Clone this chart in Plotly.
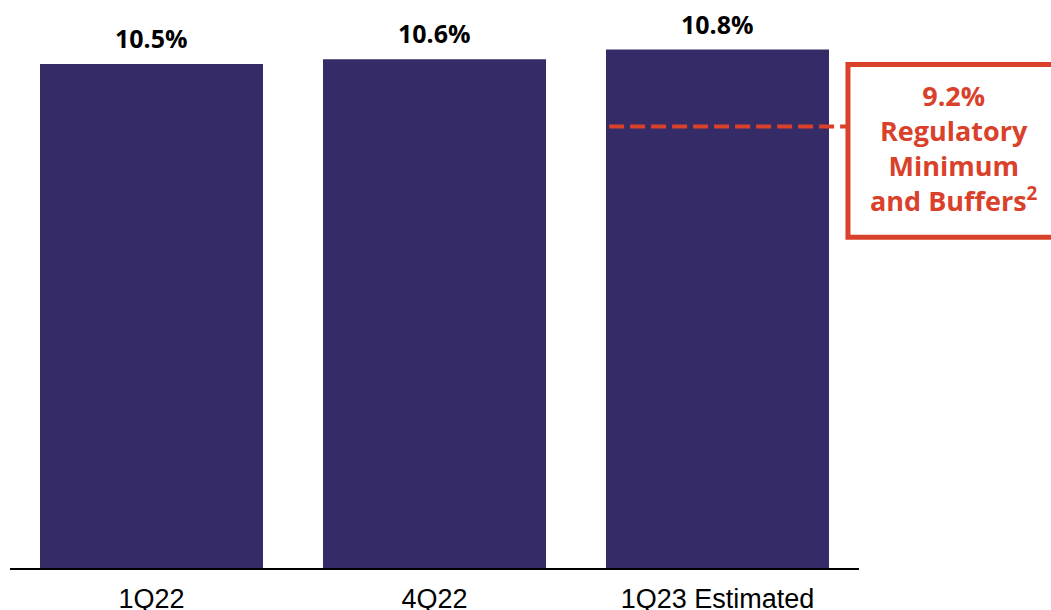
import plotly.graph_objects as go

# Quarterly ratio values (%)
quarters = ["1Q22", "4Q22", "1Q23 Estimated"]
ratios = [10.5, 10.6, 10.8]
value_labels = ["10.5%", "10.6%", "10.8%"]

# Regulatory minimum plus buffers (%)
reg_min = 9.2
reg_label = "9.2%<br>Regulatory<br>Minimum<br>and Buffers<sup>2</sup>"

BAR_COLOR = "#352B67"
RED = "#D9412A"
BARGAP = 0.212

fig = go.Figure()
fig.add_trace(go.Bar(
    x=quarters,
    y=ratios,
    marker=dict(color=BAR_COLOR, line=dict(width=0)),
    hoverinfo="skip",
))

# value labels above each bar
for q, v, t in zip(quarters, ratios, value_labels):
    fig.add_annotation(
        x=q, y=v, xref="x", yref="y",
        text=t, showarrow=False,
        yanchor="middle", yshift=26,
        font=dict(family="Open Sans, Arial, sans-serif", size=25, color="#000000", weight="bold"),
    )

# dashed regulatory line across the last bar to the callout box
last = len(quarters) - 1
fig.add_shape(
    type="line", xref="x", yref="y",
    x0=last - (1 - BARGAP) / 2 + 0.011, x1=2.461,
    y0=reg_min, y1=reg_min,
    line=dict(color=RED, width=4, dash="15px,6px"),
)

# callout box (runs off the right edge)
fig.add_shape(
    type="rect", xref="paper", yref="paper",
    x0=0.987, x1=1.35, y0=0.599, y1=0.912,
    line=dict(color=RED, width=5),
    fillcolor="rgba(0,0,0,0)",
)
fig.add_annotation(
    x=1.112, y=0.761, xref="paper", yref="paper",
    text=reg_label, showarrow=False,
    xanchor="center", yanchor="middle", align="center",
    font=dict(family="Open Sans, Arial, sans-serif", size=27, color=RED, weight="bold"),
)

fig.update_layout(
    width=1051, height=610,
    margin=dict(l=10, r=192, t=16, b=42, autoexpand=False),
    paper_bgcolor="white", plot_bgcolor="white",
    bargap=BARGAP,
    showlegend=False,
    xaxis=dict(
        automargin=False,
        showline=True, linecolor="#000000", linewidth=2,
        showgrid=False, zeroline=False,
        ticks="outside", ticklen=6, tickcolor="rgba(0,0,0,0)",
        tickfont=dict(family="Liberation Sans, Arial, sans-serif", size=27, color="#000000"),
    ),
    yaxis=dict(
        range=[0, 11.5], visible=False, showgrid=False, zeroline=False,
    ),
)

fig.write_html("out.html")
